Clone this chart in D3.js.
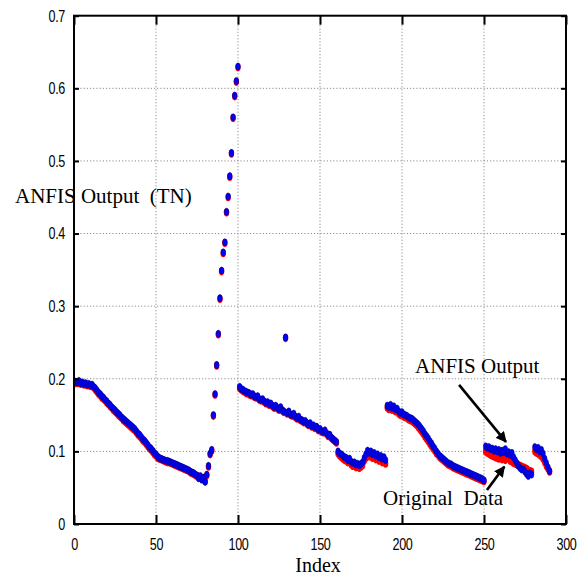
<!DOCTYPE html>
<html>
<head>
<meta charset="utf-8">
<script src="https://cdn.jsdelivr.net/npm/d3@7"></script>
<style>
  html, body { margin: 0; padding: 0; background: #fff; }
  svg { display: block; }
</style>
</head>
<body>
<div id="chart"></div>
<script>
// ---------------- data ----------------
const xTicks = [0, 50, 100, 150, 200, 250, 300];
const yTicks = [0, 0.1, 0.2, 0.3, 0.4, 0.5, 0.6, 0.7];
const yTickLabels = ["0", "0.1", "0.2", "0.3", "0.4", "0.5", "0.6", "0.7"];

// first index of each segment of consecutive samples
const segmentStart = [1, 101, 161, 191, 251, 281];

// ANFIS output (blue)
const anfis1 = [
  0.196,0.195,0.197,0.194,0.195,0.193,0.194,0.192,0.193,0.191,
  0.192,0.189,0.187,0.184,0.181,0.179,0.176,0.174,0.171,0.169,
  0.166,0.164,0.161,0.159,0.157,0.154,0.152,0.150,0.147,0.145,
  0.143,0.141,0.139,0.137,0.135,0.133,0.131,0.128,0.125,0.123,
  0.120,0.117,0.115,0.112,0.109,0.106,0.104,0.101,0.098,0.096,
  0.093,0.091,0.090,0.089,0.088,0.087,0.087,0.086,0.085,0.084,
  0.083,0.082,0.081,0.080,0.079,0.078,0.077,0.076,0.075,0.074,
  0.072,0.071,0.070,0.068,0.067,0.063,0.066,0.061,0.064,0.058,
  0.068,0.080,0.097,0.102,0.150,0.179,0.219,0.262,0.311,0.349,
  0.374,0.388,0.430,0.451,0.479,0.511,0.560,0.590,0.610,0.630];
const anfis2 = [
  0.189,0.186,0.185,0.183,0.182,0.181,0.180,0.178,0.179,0.176,
  0.175,0.176,0.172,0.171,0.172,0.169,0.167,0.168,0.165,0.166,
  0.163,0.161,0.163,0.160,0.158,0.161,0.157,0.155,0.257,0.153,
  0.155,0.151,0.150,0.152,0.148,0.146,0.148,0.144,0.143,0.141,
  0.142,0.139,0.137,0.139,0.135,0.136,0.133,0.134,0.130,0.131,
  0.128,0.127,0.129,0.125,0.122,0.123,0.119,0.117,0.115,0.113];
const anfis3 = [
  0.100,0.097,0.096,0.094,0.092,0.091,0.088,0.090,0.086,0.084,
  0.085,0.082,0.083,0.081,0.083,0.085,0.091,0.096,0.101,0.098,
  0.100,0.096,0.098,0.094,0.096,0.092,0.094,0.090,0.092,0.088];
const anfis4 = [
  0.163,0.161,0.164,0.160,0.162,0.158,0.159,0.155,0.153,0.154,
  0.151,0.150,0.149,0.147,0.146,0.145,0.143,0.141,0.139,0.137,
  0.134,0.131,0.128,0.124,0.121,0.118,0.114,0.111,0.107,0.104,
  0.100,0.097,0.094,0.092,0.090,0.088,0.086,0.084,0.083,0.082,
  0.080,0.079,0.078,0.077,0.076,0.075,0.074,0.073,0.072,0.071,
  0.070,0.069,0.068,0.067,0.066,0.065,0.064,0.063,0.062,0.060];
const anfis5 = [
  0.107,0.105,0.106,0.103,0.104,0.101,0.103,0.100,0.102,0.098,
  0.101,0.099,0.103,0.097,0.099,0.095,0.098,0.092,0.088,0.084,
  0.080,0.077,0.075,0.075,0.072,0.069,0.066,0.070,0.068];
const anfis6 = [0.106,0.103,0.105,0.100,0.102,0.097,0.090,0.084,0.078,0.073];

// Original data (red)
const orig1 = [
  0.194,0.194,0.195,0.193,0.193,0.192,0.192,0.191,0.191,0.190,
  0.190,0.188,0.185,0.182,0.179,0.177,0.174,0.172,0.170,0.167,
  0.165,0.162,0.160,0.157,0.155,0.153,0.150,0.148,0.146,0.143,
  0.141,0.139,0.137,0.135,0.133,0.131,0.129,0.126,0.123,0.121,
  0.118,0.115,0.113,0.110,0.107,0.104,0.102,0.099,0.096,0.094,
  0.091,0.090,0.089,0.088,0.087,0.086,0.085,0.085,0.084,0.083,
  0.082,0.081,0.080,0.079,0.078,0.077,0.076,0.075,0.074,0.073,
  0.071,0.070,0.069,0.067,0.066,0.064,0.065,0.062,0.063,0.059,
  0.067,0.079,0.096,0.101,0.149,0.178,0.218,0.261,0.310,0.348,
  0.373,0.387,0.429,0.450,0.478,0.510,0.559,0.589,0.609,0.629];
const orig2 = [
  0.187,0.185,0.183,0.182,0.180,0.180,0.178,0.177,0.177,0.175,
  0.174,0.174,0.171,0.170,0.170,0.168,0.166,0.166,0.164,0.164,
  0.162,0.160,0.161,0.159,0.157,0.159,0.156,0.154,0.256,0.152,
  0.153,0.150,0.149,0.150,0.147,0.145,0.146,0.143,0.142,0.140,
  0.140,0.138,0.136,0.137,0.134,0.134,0.132,0.132,0.129,0.129,
  0.127,0.126,0.127,0.124,0.121,0.121,0.118,0.116,0.114,0.112];
const orig3 = [
  0.097,0.094,0.092,0.090,0.088,0.087,0.085,0.086,0.082,0.080,
  0.081,0.078,0.079,0.077,0.079,0.081,0.087,0.091,0.095,0.093,
  0.095,0.091,0.093,0.089,0.091,0.087,0.089,0.085,0.087,0.083];
const orig4 = [
  0.160,0.158,0.160,0.157,0.158,0.155,0.156,0.152,0.150,0.151,
  0.148,0.147,0.146,0.144,0.143,0.142,0.140,0.138,0.136,0.133,
  0.130,0.127,0.124,0.120,0.117,0.114,0.110,0.107,0.104,0.101,
  0.097,0.095,0.092,0.090,0.088,0.086,0.084,0.082,0.081,0.080,
  0.078,0.077,0.076,0.075,0.074,0.073,0.072,0.071,0.070,0.069,
  0.068,0.067,0.066,0.065,0.064,0.063,0.062,0.061,0.060,0.059];
const orig5 = [
  0.100,0.098,0.097,0.095,0.094,0.093,0.092,0.091,0.090,0.091,
  0.089,0.090,0.088,0.092,0.090,0.087,0.086,0.084,0.083,0.082,
  0.081,0.080,0.079,0.078,0.077,0.076,0.074,0.073,0.072];
const orig6 = [0.100,0.098,0.097,0.095,0.093,0.090,0.085,0.080,0.076,0.072];

const anfisSegments = [anfis1, anfis2, anfis3, anfis4, anfis5, anfis6];
const origSegments  = [orig1, orig2, orig3, orig4, orig5, orig6];

// annotation texts / anchor points in data coordinates
const xLabel = "Index";
const yLabel = "ANFIS Output  (TN)";
const annAnfis = { text: "ANFIS Output", x: 208, y: 0.208, ax0: 234.8, ay0: 0.1915, ax1: 263.4, ay1: 0.113 };
const annOrig  = { text: "Original  Data", x: 188.4, y: 0.026, ax0: 251.8, ay0: 0.0468, ax1: 262.4, ay1: 0.079 };

// ---------------- layout ----------------
const W = 582, H = 579;
const plot = { left: 74, right: 566, top: 15.7, bottom: 524 };

const svg = d3.select("#chart").append("svg")
  .attr("width", W).attr("height", H)
  .attr("viewBox", `0 0 ${W} ${H}`);

const x = d3.scaleLinear().domain([0, 300]).range([plot.left, plot.right]);
const y = d3.scaleLinear().domain([0, 0.7]).range([plot.bottom, plot.top]);

function toPoints(segments) {
  const pts = [];
  segments.forEach((seg, s) => {
    seg.forEach((v, i) => pts.push({ idx: segmentStart[s] + i, v }));
  });
  return pts;
}
const origPts = toPoints(origSegments);
const anfisPts = toPoints(anfisSegments);

// grid
const grid = svg.append("g").attr("class", "grid");
grid.selectAll("line.vg").data(xTicks.filter(t => t > 0 && t < 300)).join("line")
  .attr("class", "vg")
  .attr("x1", d => x(d)).attr("x2", d => x(d))
  .attr("y1", plot.top).attr("y2", plot.bottom)
  .attr("stroke", "#8c8c8c").attr("stroke-width", 1).attr("stroke-dasharray", "1.2,2");
grid.selectAll("line.hg").data(yTicks.filter(t => t > 0 && t < 0.7)).join("line")
  .attr("class", "hg")
  .attr("x1", plot.left).attr("x2", plot.right)
  .attr("y1", d => y(d)).attr("y2", d => y(d))
  .attr("stroke", "#8c8c8c").attr("stroke-width", 1).attr("stroke-dasharray", "1.2,2");

// markers: original (red) beneath, ANFIS (blue) on top
svg.append("g").selectAll("ellipse").data(origPts).join("ellipse")
  .attr("cx", d => x(d.idx)).attr("cy", d => y(d.v))
  .attr("rx", 2.7).attr("ry", 4.1)
  .attr("fill", "#ff0000");
svg.append("g").selectAll("ellipse").data(anfisPts).join("ellipse")
  .attr("cx", d => x(d.idx)).attr("cy", d => y(d.v))
  .attr("rx", 2.3).attr("ry", 3.6)
  .attr("fill", "#0000ff").attr("stroke", "#00007a").attr("stroke-width", 0.5);

// axes (box with inward ticks)
const tickFont = "'Liberation Sans', Arial, sans-serif";
const axB = d3.axisBottom(x).tickValues(xTicks).tickSizeInner(-9).tickSizeOuter(0).tickPadding(14);
const axT = d3.axisTop(x).tickValues(xTicks).tickSizeInner(-9).tickSizeOuter(0).tickFormat("");
const axL = d3.axisLeft(y).tickValues(yTicks).tickSizeInner(-5).tickSizeOuter(0).tickPadding(9)
  .tickFormat((d, i) => yTickLabels[i]);
const axR = d3.axisRight(y).tickValues(yTicks).tickSizeInner(-5).tickSizeOuter(0).tickFormat("");

function styleAxis(g) {
  g.select(".domain").remove();
  g.selectAll(".tick line").attr("stroke", "#000").attr("stroke-width", 2);
  g.selectAll(".tick text").attr("fill", "#000")
    .style("font-family", tickFont).style("font-size", "17px")
    .style("letter-spacing", "-0.5px")
    .each(function () {
      const w = this.getComputedTextLength();
      if (w > 0) d3.select(this).attr("textLength", w * 0.74).attr("lengthAdjust", "spacingAndGlyphs");
    });
}
svg.append("g").attr("transform", `translate(0,${plot.bottom})`).call(axB).call(styleAxis);
svg.append("g").attr("transform", `translate(0,${plot.top})`).call(axT).call(styleAxis);
svg.append("g").attr("transform", `translate(${plot.left},0)`).call(axL).call(styleAxis);
svg.append("g").attr("transform", `translate(${plot.right},0)`).call(axR).call(styleAxis);

svg.append("rect")
  .attr("x", plot.left).attr("y", plot.top)
  .attr("width", plot.right - plot.left).attr("height", plot.bottom - plot.top)
  .attr("fill", "none").attr("stroke", "#000").attr("stroke-width", 2);

// labels
const serif = "'Liberation Serif', 'DejaVu Serif', serif";
svg.append("text").text(yLabel)
  .attr("x", 15).attr("y", 203)
  .style("font-family", serif).style("font-size", "21px").style("white-space", "pre")
  .attr("fill", "#000");
svg.append("text").text(xLabel)
  .attr("x", x(150) - 2).attr("y", 572).attr("text-anchor", "middle")
  .style("font-family", serif).style("font-size", "20px")
  .attr("fill", "#000");

// annotations
const defs = svg.append("defs");
defs.append("marker").attr("id", "ah")
  .attr("viewBox", "0 0 10 10").attr("refX", 9).attr("refY", 5)
  .attr("markerWidth", 4.2).attr("markerHeight", 4.2).attr("orient", "auto")
  .append("path").attr("d", "M0,0 L10,5 L0,10 Z").attr("fill", "#000");

[annAnfis, annOrig].forEach(a => {
  svg.append("text").text(a.text)
    .attr("x", x(a.x)).attr("y", y(a.y))
    .style("font-family", serif).style("font-size", "21px").style("white-space", "pre")
    .attr("fill", "#000");
  svg.append("line")
    .attr("x1", x(a.ax0)).attr("y1", y(a.ay0))
    .attr("x2", x(a.ax1)).attr("y2", y(a.ay1))
    .attr("stroke", "#000").attr("stroke-width", 2.6)
    .attr("marker-end", "url(#ah)");
});
</script>
</body>
</html>
